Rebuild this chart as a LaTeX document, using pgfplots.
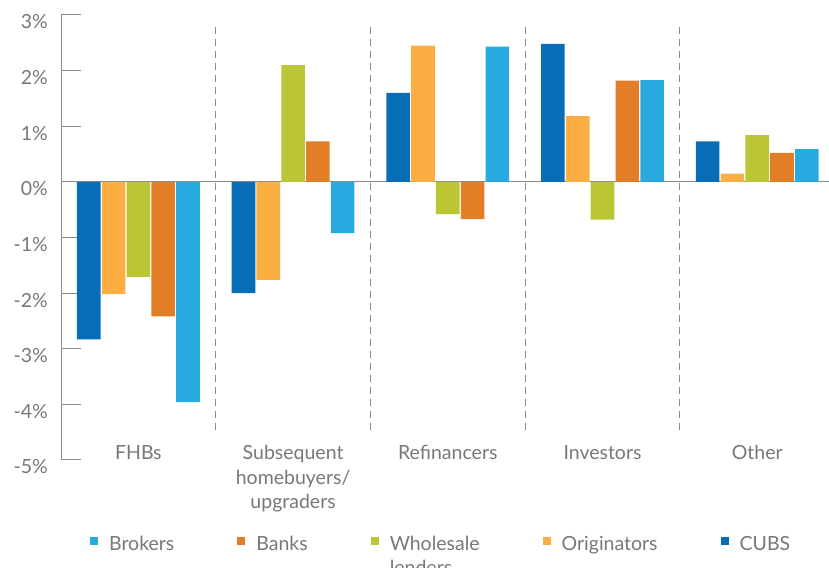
\documentclass[border=0pt]{standalone}
\usepackage{fontspec}
\setmainfont{Lato}
\usepackage{pgfplots}
\usepackage{pgfplotstable}
\pgfplotsset{compat=1.18}

\definecolor{cubs}{HTML}{076DB6}
\definecolor{orig}{HTML}{FBAE42}
\definecolor{whole}{HTML}{BAC634}
\definecolor{banks}{HTML}{E17E26}
\definecolor{brokers}{HTML}{28AAE1}
\definecolor{txtgray}{HTML}{77787B}
\definecolor{axgray}{HTML}{8C8C8C}

% change in share by borrower type, per channel (%)
\pgfplotstableread{
x  cubs   orig   whole  banks  brokers
0  -2.83  -2.02  -1.71  -2.42  -3.96
1  -2.00  -1.76   2.10   0.73  -0.92
2   1.60   2.45  -0.58  -0.67   2.43
3   2.48   1.18  -0.68   1.82   1.83
4   0.73   0.15   0.84   0.52   0.59
}\shares

\begin{document}
\begin{tikzpicture}
\begin{axis}[
    at={(61pt,107pt)}, anchor=south west,
    scale only axis, width=768pt, height=445pt,
    xmin=-0.5, xmax=4.464, ymin=-5, ymax=3,
    ybar=1.2pt, bar width=23.6pt,
    axis y line*=left, axis x line*=bottom,
    x axis line style={draw=none},
    y axis line style={draw=axgray, line width=1pt},
    xtick={0,...,4},
    xticklabels={FHBs,
      {\begin{tabular}[t]{@{}c@{}}Subsequent\\homebuyers/\\upgraders\end{tabular}},
      Refinancers, Investors, Other},
    xtick style={draw=none},
    xticklabel style={anchor=base, yshift=0pt},
    ytick={-5,...,3},
    yticklabels={-5\%,-4\%,-3\%,-2\%,-1\%,0\%,1\%,2\%,3\%},
    ytick style={draw=axgray, line width=1pt},
    tick align=inside, major tick length=20pt,
    yticklabel style={anchor=east, inner xsep=0pt, xshift=-13pt, yshift=-7pt},
    extra y ticks={0}, extra y tick labels={},
    extra y tick style={grid=major, major grid style={draw=axgray, line width=1.2pt}},
    tick label style={font=\fontsize{19.5}{24.5}\selectfont, text=txtgray},
    legend image code/.code={\fill[#1,draw=none] (0pt,-1pt) rectangle (8pt,7pt);},
    reverse legend,
    legend columns=5,
    legend style={draw=none, at={(0.495,-0.157)}, anchor=north,
      font=\fontsize{19.5}{24}\selectfont, text=txtgray,
      /tikz/every odd column/.append style={column sep=9pt},
      /tikz/every even column/.append style={column sep=61pt}},
]
\draw[axgray, line width=1pt, dash pattern=on 7pt off 5pt]
  (axis cs:0.5,2.79) -- (axis cs:0.5,-4.46)
  (axis cs:1.5,2.79) -- (axis cs:1.5,-4.46)
  (axis cs:2.5,2.79) -- (axis cs:2.5,-4.46)
  (axis cs:3.5,2.79) -- (axis cs:3.5,-4.46);
\addplot[fill=cubs, draw=none] table[x=x, y=cubs] {\shares};
\addplot[fill=orig, draw=none] table[x=x, y=orig] {\shares};
\addplot[fill=whole, draw=none] table[x=x, y=whole] {\shares};
\addplot[fill=banks, draw=none] table[x=x, y=banks] {\shares};
\addplot[fill=brokers, draw=none] table[x=x, y=brokers] {\shares};
\addlegendentry{CUBS}
\addlegendentry{Originators}
\addlegendentry{\raisebox{1.5pt}{\begin{tabular}[t]{@{}l@{}}Wholesale\\lenders\end{tabular}}}
\addlegendentry{Banks}
\addlegendentry{Brokers}
\end{axis}
\pgfresetboundingbox
\useasboundingbox (0,0) rectangle (829pt,567pt);
\end{tikzpicture}
\end{document}
